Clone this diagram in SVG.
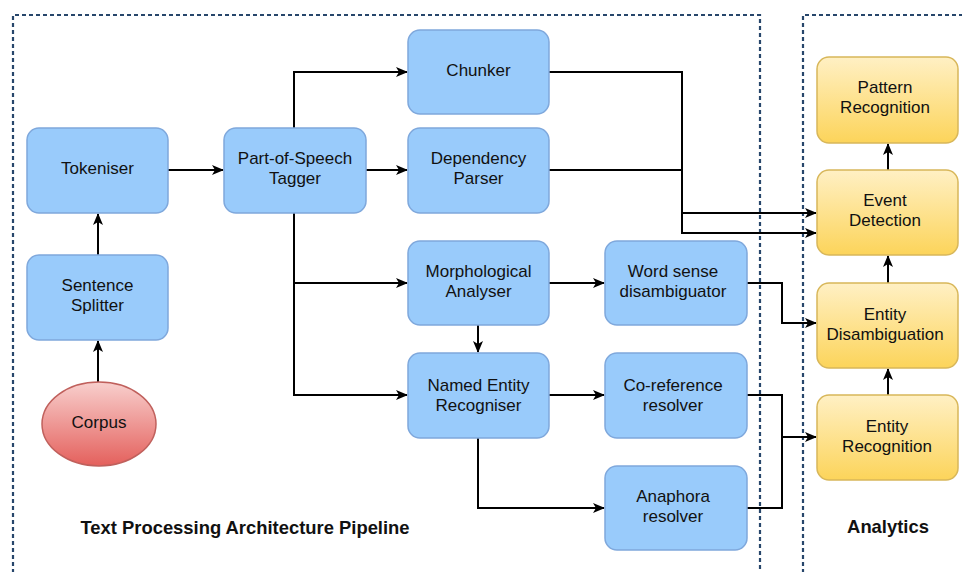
<svg xmlns="http://www.w3.org/2000/svg" width="962" height="572" viewBox="0 0 962 572">
<defs>
<linearGradient id="yel" x1="0" y1="0" x2="0" y2="1"><stop offset="0" stop-color="#fff0c4"/><stop offset="1" stop-color="#fcd45a"/></linearGradient>
<linearGradient id="red" x1="0" y1="0" x2="0" y2="1"><stop offset="0" stop-color="#f8cfcd"/><stop offset="1" stop-color="#e4605c"/></linearGradient>
<marker id="ar" viewBox="0 0 12 12" refX="11" refY="6" markerWidth="12" markerHeight="12" markerUnits="userSpaceOnUse" orient="auto">
<path d="M0,1 L12,6 L0,11 L3,6 Z" fill="#000"/>
</marker>
<style>
.cont{fill:none;stroke:#27466b;stroke-width:2.2;stroke-dasharray:4 3}
.b{fill:#99cbfb;stroke:#7fa8dc;stroke-width:1.5}
.y{fill:url(#yel);stroke:#d8b75a;stroke-width:1.5}
.r{fill:url(#red);stroke:#c0605c;stroke-width:1.5}
text{font-family:"Liberation Sans",Arial,Helvetica,sans-serif;font-size:17px;fill:#111;text-anchor:middle}
.t{font-weight:bold;font-size:18.4px}
.c path{fill:none;stroke:#000;stroke-width:2;marker-end:url(#ar)}
.c path.n{marker-end:none}
</style>
</defs>
<rect width="962" height="572" fill="#fff"/>
<path class="cont" d="M13,580 L13,15 L760,15 L760,580"/>
<path class="cont" d="M803,580 L803,15 L970,15"/>
<text class="t" x="245" y="534">Text Processing Architecture Pipeline</text>
<text class="t" x="888" y="533">Analytics</text>
<g class="c" id="connectors">
<path d="M168,170 L223,170"/>
<path d="M98,255 L98,214"/>
<path d="M98,382 L98,341"/>
<path d="M294,128 L294,72 L407,72"/>
<path d="M366,170 L407,170"/>
<path d="M294,213 L294,395 L407,395"/>
<path d="M294,283 L407,283"/>
<path d="M478,325 L478,352"/>
<path d="M549,283 L604,283"/>
<path d="M549,395 L604,395"/>
<path d="M478,438 L478,508 L604,508"/>
<path d="M549,72 L682,72 L682,233 L816,233"/>
<path d="M549,170 L682,170 L682,213 L816,213"/>
<path d="M747,283 L782,283 L782,323 L816,323"/>
<path d="M747,395 L782,395 L782,437 L816,437"/>
<path class="n" d="M747,508 L782,508 L782,437"/>
<path d="M888,395 L888,369"/>
<path d="M888,283 L888,256"/>
<path d="M888,170 L888,144"/>
</g>
<g id="tokeniser"><rect class="b" x="27" y="128" width="141" height="85" rx="12"/><text x="97.5" y="174">Tokeniser</text></g>
<g id="pos"><rect class="b" x="224" y="128" width="142" height="85" rx="12"/><text x="295" y="164">Part-of-Speech</text><text x="295" y="184">Tagger</text></g>
<g id="chunker"><rect class="b" x="408" y="30" width="141" height="84" rx="12"/><text x="478.5" y="76">Chunker</text></g>
<g id="dependency"><rect class="b" x="408" y="128" width="141" height="85" rx="12"/><text x="478.5" y="164">Dependency</text><text x="478.5" y="184">Parser</text></g>
<g id="splitter"><rect class="b" x="27" y="255" width="141" height="85" rx="12"/><text x="97.5" y="291">Sentence</text><text x="97.5" y="311">Splitter</text></g>
<g id="corpus"><ellipse class="r" cx="99" cy="424" rx="57" ry="42"/><text x="99" y="428">Corpus</text></g>
<g id="morph"><rect class="b" x="408" y="241" width="141" height="84" rx="12"/><text x="478.5" y="277">Morphological</text><text x="478.5" y="297">Analyser</text></g>
<g id="ner"><rect class="b" x="408" y="353" width="141" height="85" rx="12"/><text x="478.5" y="391">Named Entity</text><text x="478.5" y="411">Recogniser</text></g>
<g id="wsd"><rect class="b" x="605" y="241" width="142" height="84" rx="12"/><text x="673" y="277">Word sense</text><text x="673" y="297">disambiguator</text></g>
<g id="coref"><rect class="b" x="605" y="353" width="142" height="85" rx="12"/><text x="673" y="391">Co-reference</text><text x="673" y="411">resolver</text></g>
<g id="anaphora"><rect class="b" x="605" y="466" width="142" height="84" rx="12"/><text x="673" y="502">Anaphora</text><text x="673" y="522">resolver</text></g>
<g id="pattern"><rect class="y" x="817" y="57" width="141" height="86" rx="12"/><text x="885" y="93">Pattern</text><text x="885" y="113">Recognition</text></g>
<g id="event"><rect class="y" x="817" y="170" width="141" height="85" rx="12"/><text x="885" y="206">Event</text><text x="885" y="226">Detection</text></g>
<g id="entdis"><rect class="y" x="817" y="283" width="141" height="85" rx="12"/><text x="885" y="320">Entity</text><text x="885" y="340">Disambiguation</text></g>
<g id="entrec"><rect class="y" x="817" y="395" width="141" height="85" rx="12"/><text x="887" y="432">Entity</text><text x="887" y="452">Recognition</text></g>
</svg>
